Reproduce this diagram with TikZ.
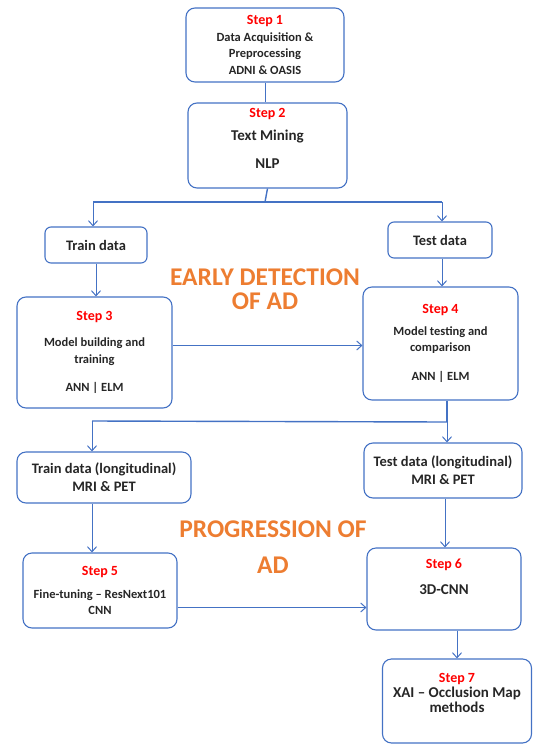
\documentclass[tikz,border=0pt]{standalone}
\usepackage{fontspec}
\setmainfont{Carlito}
\usetikzlibrary{arrows.meta}

\definecolor{boxblue}{RGB}{68,114,196}
\definecolor{stepred}{RGB}{255,0,0}
\definecolor{adorange}{RGB}{237,125,49}

\tikzset{
  box/.style={draw=boxblue, line width=1.1pt, rounded corners=9pt, align=center,
    inner sep=0pt, text=black!85, font=\bfseries\fontsize{12.5}{16.5}\selectfont},
  databox/.style={box, font=\bfseries\fontsize{14.5}{18}\selectfont},
  link/.style={draw=boxblue, line width=1pt},
  arr/.style={link, -{Straight Barb[length=5pt,width=9pt]}},
  title/.style={align=center, text=adorange, font=\bfseries\fontsize{25.5}{24}\selectfont}
}
\newcommand{\stepname}[1]{{\fontsize{14}{16}\selectfont\color{stepred}#1}}

\begin{document}
\begin{tikzpicture}[x=1pt, y=-1pt]
            \useasboundingbox (0,0) rectangle (533,745);

            % Nodes

            \node[box, minimum width=158, minimum height=74] (s1) at (265,45)
                {\stepname{Step 1}\\ Data Acquisition \&\\ Preprocessing\\ ADNI \& OASIS};
            \node[box, minimum width=159, minimum height=85] (s2) at (267.5,145.5)
                {\stepname{Step 2}\\[6pt] {\fontsize{15}{16}\selectfont Text Mining}\\[12pt] {\fontsize{15}{16}\selectfont NLP}\\[-3pt]~};
            \node[databox, rounded corners=6pt, minimum width=102, minimum height=36] (train) at (96,245) {Train data};
            \node[databox, rounded corners=6pt, minimum width=104, minimum height=36] (test) at (440,240) {Test data};
            \node[box, minimum width=155, minimum height=111] (s3) at (94.5,352.5)
                {\stepname{Step 3}\\[10pt] Model building and\\ training\\[12pt] ANN | ELM};
            \node[box, minimum width=155, minimum height=113] (s4) at (440.5,343.5)
                {\stepname{Step 4}\\[5pt] Model testing and\\ comparison\\[12pt] ANN | ELM};
            \node[databox, minimum width=174, minimum height=51] (trainl) at (104,477.5)
                {Train data (longitudinal)\\ MRI \& PET};
            \node[databox, minimum width=158, minimum height=55] (testl) at (443,470.5)
                {Test data (longitudinal)\\ MRI \& PET};
            \node[box, minimum width=154, minimum height=75] (s5) at (100,590.5)
                {\stepname{Step 5}\\[6pt] Fine-tuning -- ResNext101\\ CNN};
            \node[box, font=\bfseries\fontsize{15}{16}\selectfont, minimum width=154, minimum height=82] (s6) at (444,589)
                {\stepname{Step 6}\\[10pt] 3D-CNN\\[9pt]~};
            \node[box, font=\bfseries\fontsize{15}{15}\selectfont, minimum width=149, minimum height=84] (s7) at (457,701)
                {\stepname{Step 7}\\ XAI -- Occlusion Map\\ methods\\[2pt]~};

            % Titles

            \node[title] (early) at (265,289) {EARLY DETECTION\\OF AD};
            \node[title] (prog) at (273,547) {PROGRESSION OF\\[12pt]AD};

            % Forks

            \coordinate (fork1) at (265,202);
            \coordinate (fork1l) at (93,202);
            \coordinate (fork1r) at (442,202);
            \coordinate (fork2) at (447,422);
            \coordinate (fork2l) at (92,421);

            % Edges

            \draw[link] (s1.south) -- (s1.south |- s2.north);
            \draw[link, line width=1.4pt] (s2.south) -- (fork1);
            \draw[link, line width=1.4pt] (fork1l) -- (fork1r);
            \draw[arr] (fork1l) -- (fork1l |- train.north);
            \draw[arr] (fork1r) -- (fork1r |- test.north);
            \draw[arr] (train.south) -- (train.south |- s3.north);
            \draw[arr] ([xshift=2pt]test.south) -- ([xshift=2pt]test.south |- s4.north);
            \draw[arr] ([yshift=7pt]s3.east) -- ([yshift=7pt]s3.east -| s4.west);
            \draw[link, line width=1.4pt] (fork2 |- s4.south) -- (fork2);
            \draw[link, line width=1.4pt] (fork2l) -- (fork2);
            \draw[arr] (fork2l) -- (fork2l |- trainl.north);
            \draw[arr] (fork2) -- (fork2 |- testl.north);
            \draw[arr] (fork2l |- trainl.south) -- (fork2l |- s5.north);
            \draw[arr] ([xshift=2pt]testl.south) -- ([xshift=2pt]testl.south |- s6.north);
            \draw[arr] ([yshift=-17pt]s5.east) -- ([yshift=-17pt]s5.east -| s6.west);
            \draw[arr] (s7.north |- s6.south) -- (s7.north);

\end{tikzpicture}
\end{document}
